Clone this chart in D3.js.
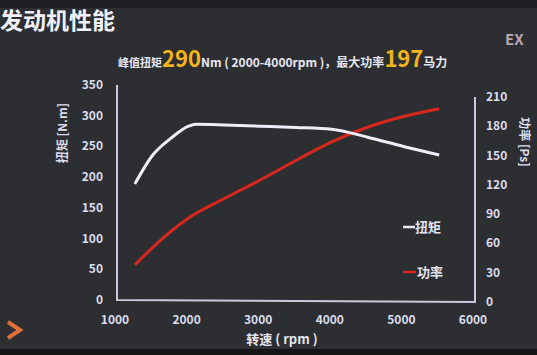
<html>
<head>
<meta charset="utf-8">
<style>
  body { margin: 0; background: #1c1d20; }
  text { font-family: "Noto Sans CJK SC", "Noto Sans", sans-serif; }
</style>
</head>
<body>
<script src="https://cdn.jsdelivr.net/npm/d3@7/dist/d3.min.js"></script>
<script>
var width = 537;
var height = 355;

// data
var torqueRpm = [1250, 1500, 1750, 2000, 2100, 2500, 3000, 3500, 4000, 4500, 5000, 5500];
var torqueVal = [189, 236, 263, 283, 286, 285, 283, 281, 278, 265, 250, 236];
var powerRpm = [1250, 1500, 2000, 2500, 3000, 3500, 4000, 4500, 5000, 5500];
var powerVal = [38, 56, 86, 106, 125, 145, 164, 179, 190, 198];
var xTicks = [1000, 2000, 3000, 4000, 5000, 6000];
var leftTicks = [0, 50, 100, 150, 200, 250, 300, 350];
var rightTicks = [0, 30, 60, 90, 120, 150, 180, 210];

var svg = d3.select("body").append("svg")
  .attr("width", width)
  .attr("height", height);

// slide background
svg.append("rect").attr("width", width).attr("height", height).attr("fill", "#2c2e31");
svg.append("rect").attr("width", width).attr("height", 8).attr("fill", "#1d1e21");
svg.append("rect").attr("y", 349).attr("width", width).attr("height", 6).attr("fill", "#141517");

var x = d3.scaleLinear().domain([1000, 6000]).range([117, 475]);
var yL = d3.scaleLinear().domain([0, 350]).range([300, 85]);
var yR = d3.scaleLinear().domain([0, 210]).range([302, 97]);

var axisColor = "#c9c9de";
var labelColor = "#dcdcef";

// frame: left axis, bottom, right axis
svg.append("path")
  .attr("d", "M" + x(1000) + "," + yL(350) + "V" + yL(0) + "L" + x(6000) + "," + yR(0) + "V" + yR(210))
  .attr("fill", "none")
  .attr("stroke", axisColor)
  .attr("stroke-width", 2);

// tick labels
svg.selectAll(".tl").data(leftTicks).enter().append("text")
  .attr("x", 103).attr("y", function(d){ return yL(d) + 4; })
  .attr("text-anchor", "end").attr("font-size", 12).attr("font-weight", "bold")
  .attr("fill", labelColor).text(function(d){ return d; });

svg.selectAll(".tr").data(rightTicks).enter().append("text")
  .attr("x", 486).attr("y", function(d){ return yR(d) + 4; })
  .attr("text-anchor", "start").attr("font-size", 12).attr("font-weight", "bold")
  .attr("fill", labelColor).text(function(d){ return d; });

svg.selectAll(".tx").data(xTicks).enter().append("text")
  .attr("x", function(d){ return x(d) - 2; }).attr("y", 324)
  .attr("text-anchor", "middle").attr("font-size", 12).attr("font-weight", "bold")
  .attr("fill", labelColor).text(function(d){ return d; });

// axis titles
svg.append("text")
  .attr("transform", "translate(67,133) rotate(-90)")
  .attr("text-anchor", "middle").attr("font-size", 12).attr("font-weight", "bold")
  .attr("fill", labelColor).text("扭矩 [N.m]");

svg.append("text")
  .attr("transform", "translate(520,142) rotate(90)")
  .attr("text-anchor", "middle").attr("font-size", 12).attr("font-weight", "bold")
  .attr("fill", labelColor).text("功率 [Ps]");

svg.append("text")
  .attr("x", 282).attr("y", 344)
  .attr("text-anchor", "middle").attr("font-size", 13).attr("font-weight", "bold")
  .attr("fill", "#e4e4f0").text("转速 ( rpm )");

// curves
var torqueLine = d3.line()
  .x(function(d, i){ return x(torqueRpm[i]); })
  .y(function(d){ return yL(d); })
  .curve(d3.curveMonotoneX);
var powerLine = d3.line()
  .x(function(d, i){ return x(powerRpm[i]); })
  .y(function(d){ return yR(d); })
  .curve(d3.curveMonotoneX);

svg.append("path").datum(powerVal)
  .attr("d", powerLine).attr("fill", "none")
  .attr("stroke", "#d8281e").attr("stroke-width", 3);
svg.append("path").datum(torqueVal)
  .attr("d", torqueLine).attr("fill", "none")
  .attr("stroke", "#eeeef8").attr("stroke-width", 3);

// legend
svg.append("line").attr("x1", 403).attr("x2", 415).attr("y1", 227).attr("y2", 227)
  .attr("stroke", "#eeeef8").attr("stroke-width", 2.5);
svg.append("text").attr("x", 415).attr("y", 232).attr("font-size", 13).attr("font-weight", "bold")
  .attr("fill", "#e4e4f0").text("扭矩");
svg.append("line").attr("x1", 403).attr("x2", 416).attr("y1", 272).attr("y2", 272)
  .attr("stroke", "#d8281e").attr("stroke-width", 2.5);
svg.append("text").attr("x", 417).attr("y", 277).attr("font-size", 13).attr("font-weight", "bold")
  .attr("fill", "#e4e4f0").text("功率");

// titles
svg.append("text").attr("x", 0).attr("y", 29)
  .attr("font-size", 23).attr("font-weight", "bold")
  .attr("fill", "#f2f2ff").text("发动机性能");

var head = svg.append("text").attr("x", 118).attr("y", 67)
  .attr("font-weight", "bold").attr("fill", "#e8e8f4");
head.append("tspan").attr("font-size", 11).text("峰值扭矩");
head.append("tspan").attr("font-size", 22).attr("fill", "#f4b41a").text("290");
head.append("tspan").attr("font-size", 12).text("Nm ( 2000-4000rpm )，最大功率");
head.append("tspan").attr("font-size", 22).attr("fill", "#f4b41a").text("197");
head.append("tspan").attr("font-size", 12).text("马力");

svg.append("text").attr("x", 505).attr("y", 45)
  .attr("font-size", 15).attr("font-weight", "bold")
  .attr("fill", "#b9a6b2").text("EX");

// orange chevron bottom-left
svg.append("path").attr("d", "M8,322 L20,330 L8,338")
  .attr("fill", "none").attr("stroke", "#e0703a").attr("stroke-width", 4);
</script>
</body>
</html>
